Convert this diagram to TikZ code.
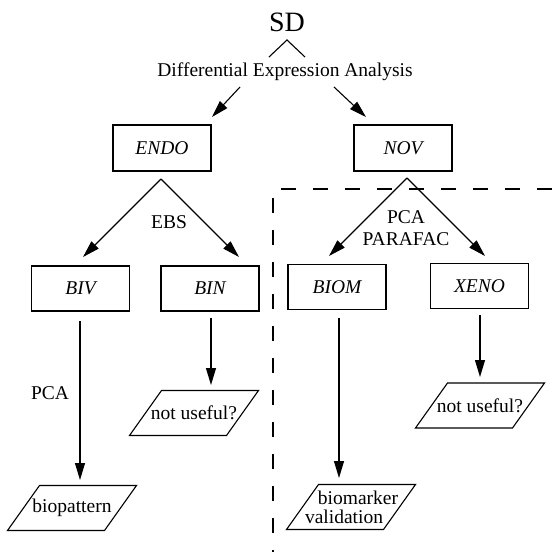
\documentclass[tikz,border=0pt]{standalone}
\usepackage{fontspec}
\setmainfont{Liberation Serif}
\usetikzlibrary{arrows.meta}
\begin{document}
\begin{tikzpicture}[x=1pt,y=-1pt,
  txt/.style={font=\fontsize{19.5}{19}\selectfont, inner sep=0pt},
  box/.style={draw, line width=1.1pt, minimum width=98pt, minimum height=46pt, inner sep=0pt, font=\fontsize{19.5}{19}\selectfont\itshape},
  ptxt/.style={inner sep=0pt, align=center, font=\fontsize{19.5}{19}\selectfont},
  arr/.style={line width=1.1pt, -{Triangle[length=17pt,width=10pt]}},
  ln/.style={line width=1.1pt, line join=miter},
  dsh/.style={line width=1.1pt, dash pattern=on 15pt off 17pt}]
\useasboundingbox (0,0) rectangle (552,552);
% nodes
\node[txt, font=\fontsize{28}{30}\selectfont] (sd) at (287,22) {SD};
\node[txt] (dea) at (285,72) {Differential Expression Analysis};
\node[box] (endo) at (162,148) {ENDO};
\node[box] (nov) at (403,148) {NOV};
\node[box, minimum height=45pt] (biv) at (80.5,288.5) {BIV};
\node[box, minimum height=45pt] (bin) at (210,288.5) {BIN};
\node[box, minimum height=45pt] (biom) at (337,287) {BIOM};
\node[box, minimum height=45pt] (xeno) at (479.5,286) {XENO};
\node[ptxt] (biop) at (72,508) {biopattern};
\node[ptxt] (nu1) at (194,413) {not useful?};
\node[ptxt] (bmv) at (351,507) {\hspace*{14pt}biomarker\\validation\hspace*{14pt}};
\node[ptxt] (nu2) at (480,405.5) {not useful?};
% parallelogram outlines around the output nodes
\foreach \n in {biop,nu1,bmv,nu2}{
  \draw[ln] ([shift={(-32.5,-22.5)}]\n.center) -- ([shift={(64.5,-22.5)}]\n.center)
    -- ([shift={(32.5,22.5)}]\n.center) -- ([shift={(-64.5,22.5)}]\n.center) -- cycle;
}
% labels
\node[txt] (ebs) at (169,222) {EBS};
\node[txt] (pca1) at (406,217) {PCA};
\node[txt] (parafac) at (406,239) {PARAFAC};
\node[txt] (pca2) at (50,393) {PCA};
% caret
\coordinate (capex) at (287,40);
\coordinate (cl) at (269,57);
\coordinate (cr) at (305,57);
\draw[ln] (cl) -- (capex) -- (cr);
% arrows from DEA
\coordinate (dl) at (240,87);
\coordinate (dlt) at (212,117);
\coordinate (dr) at (334,87);
\coordinate (drt) at (366,117);
\draw[arr] (dl) -- (dlt);
\draw[arr] (dr) -- (drt);
% ENDO fork
\coordinate (ea) at (161,179);
\coordinate (elt) at (83,257);
\coordinate (ert) at (239,257);
\draw[arr] (ea) -- (elt);
\draw[arr] (ea) -- (ert);
% NOV fork
\coordinate (na) at (407,178);
\coordinate (nlt) at (329,256);
\coordinate (nrt) at (485,256);
\draw[arr] (na) -- (nlt);
\draw[arr] (na) -- (nrt);
% vertical arrows
\coordinate (s1) at (80,321);   \coordinate (t1) at (80,480);
\coordinate (s2) at (211,318);  \coordinate (t2) at (211,385);
\coordinate (s3) at (339,318);  \coordinate (t3) at (339,478);
\coordinate (s4) at (480,315);  \coordinate (t4) at (480,377);
\draw[arr] (s1) -- (t1);
\draw[arr] (s2) -- (t2);
\draw[arr] (s3) -- (t3);
\draw[arr] (s4) -- (t4);
% dashed boundary
\coordinate (d1) at (552,189);
\coordinate (d2) at (273,189);
\coordinate (d3) at (273,552);
\draw[dsh] (d1) -- (d2) -- (d3);
\end{tikzpicture}
\end{document}
